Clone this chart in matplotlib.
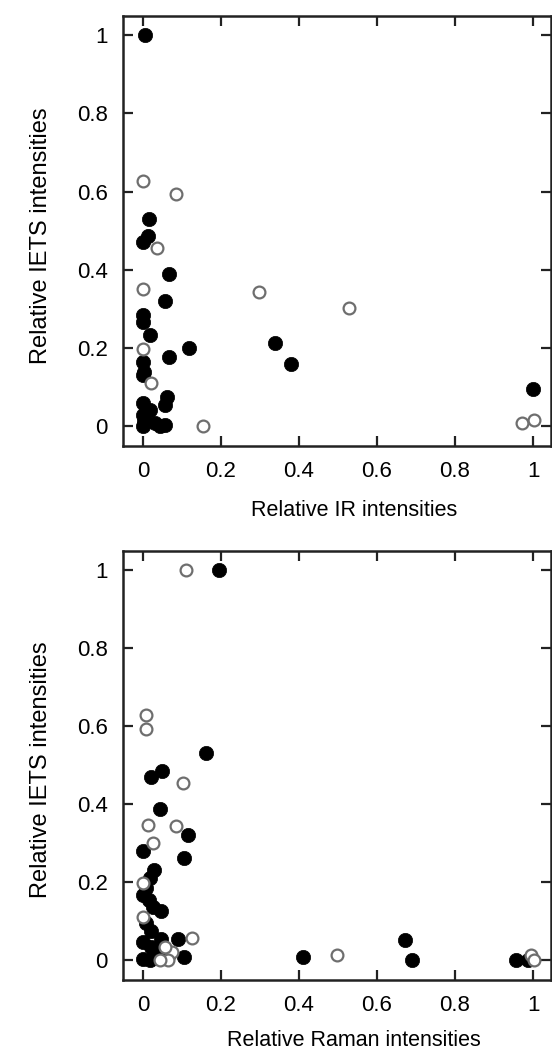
import matplotlib
matplotlib.use("Agg")
import matplotlib.pyplot as plt

plt.rcParams['font.family'] = ['Liberation Sans', 'DejaVu Sans']

# ---- Top panel: IR vs IETS ----
ir_filled_x = [0.005, 0.015, 0.012, 0.0, 0.067, 0.056, 0.338, 0.379, 0.119,
               0.001, 0.0, 0.018, 0.067, 0.0, 0.003, 0.0, 0.061, 0.056,
               0.0, 0.0, 0.018, 0.0, 0.031, 0.056, 0.045, 0.004, 1.0]
ir_filled_y = [1.0, 0.53, 0.486, 0.471, 0.389, 0.32, 0.213, 0.16, 0.2,
               0.284, 0.267, 0.234, 0.177, 0.165, 0.139, 0.13, 0.075, 0.055,
               0.059, 0.028, 0.041, 0.0, 0.008, 0.003, 0.0, 0.012, 0.094]
ir_open_x = [0.0, 0.086, 0.037, 0.0, 0.297, 0.528, 0.155, 0.0, 0.022, 0.971, 1.003]
ir_open_y = [0.627, 0.593, 0.455, 0.35, 0.343, 0.301, 0.0, 0.197, 0.109, 0.007, 0.015]

# ---- Bottom panel: Raman vs IETS ----
ra_filled_x = [0.196, 0.162, 0.048, 0.02, 0.044, 0.116, 0.001, 0.106, 0.029,
               0.018, 0.009, 0.001, 0.016, 0.026, 0.046, 0.009, 0.02, 0.0,
               0.046, 0.089, 0.022, 0.03, 0.0, 0.017, 0.065, 0.106,
               0.411, 0.673, 0.689, 0.956, 0.988]
ra_filled_y = [1.0, 0.532, 0.486, 0.469, 0.388, 0.32, 0.28, 0.263, 0.231,
               0.21, 0.184, 0.167, 0.154, 0.137, 0.126, 0.094, 0.074, 0.046,
               0.053, 0.053, 0.034, 0.021, 0.003, 0.0, 0.01, 0.008,
               0.008, 0.051, 0.0, 0.0, 0.0]
ra_open_x = [0.11, 0.009, 0.008, 0.103, 0.014, 0.085, 0.026, 0.0, 0.0, 0.125,
             0.074, 0.056, 0.065, 0.045, 0.497, 0.994, 1.003]
ra_open_y = [1.0, 0.628, 0.592, 0.454, 0.347, 0.343, 0.30, 0.197, 0.111, 0.057,
             0.022, 0.034, 0.0, 0.0, 0.012, 0.012, 0.0]

xticks = [0, 0.2, 0.4, 0.6, 0.8, 1]
xticklabels = ['0', '0.2', '0.4', '0.6', '0.8', '1']
yticks = [0, 0.2, 0.4, 0.6, 0.8, 1]
yticklabels = ['0', '0.2', '0.4', '0.6', '0.8', '1']

W, H = 552, 1050
fig = plt.figure(figsize=(W / 100, H / 100), dpi=100)

ax1 = fig.add_axes([123 / W, 1 - 446 / H, 428 / W, 430 / H])
ax2 = fig.add_axes([123 / W, 1 - 980 / H, 428 / W, 429 / H])

panels = [
    (ax1, ir_filled_x, ir_filled_y, ir_open_x, ir_open_y, 'Relative IR intensities', -0.125),
    (ax2, ra_filled_x, ra_filled_y, ra_open_x, ra_open_y, 'Relative Raman intensities', -0.117),
]

for ax, fx, fy, ox, oy, xlabel, ly in panels:
    ax.plot(fx, fy, 'o', ms=10.3, mfc='black', mec='black', mew=0.5, ls='none', zorder=3)
    ax.plot(ox, oy, 'o', ms=8.5, mfc='white', mec='#6e6e6e', mew=1.6, ls='none', zorder=4)
    ax.set_xlim(-0.051, 1.046)
    ax.set_ylim(-0.051, 1.049)
    ax.set_xticks(xticks)
    ax.set_xticklabels(xticklabels)
    ax.set_yticks(yticks)
    ax.set_yticklabels(yticklabels)
    ax.tick_params(direction='in', length=7, width=1.6, top=True, right=True,
                   labelsize=16, pad=11, color='#222222')
    for s in ax.spines.values():
        s.set_linewidth(1.8)
        s.set_color('#222222')
    ax.set_xlabel(xlabel, fontsize=15.5)
    ax.xaxis.set_label_coords(0.54, ly)
    ax.set_ylabel('Relative IETS intensities', fontsize=17)
    ax.yaxis.set_label_coords(-0.166, 0.49)

fig.savefig('out.png', dpi=100)
